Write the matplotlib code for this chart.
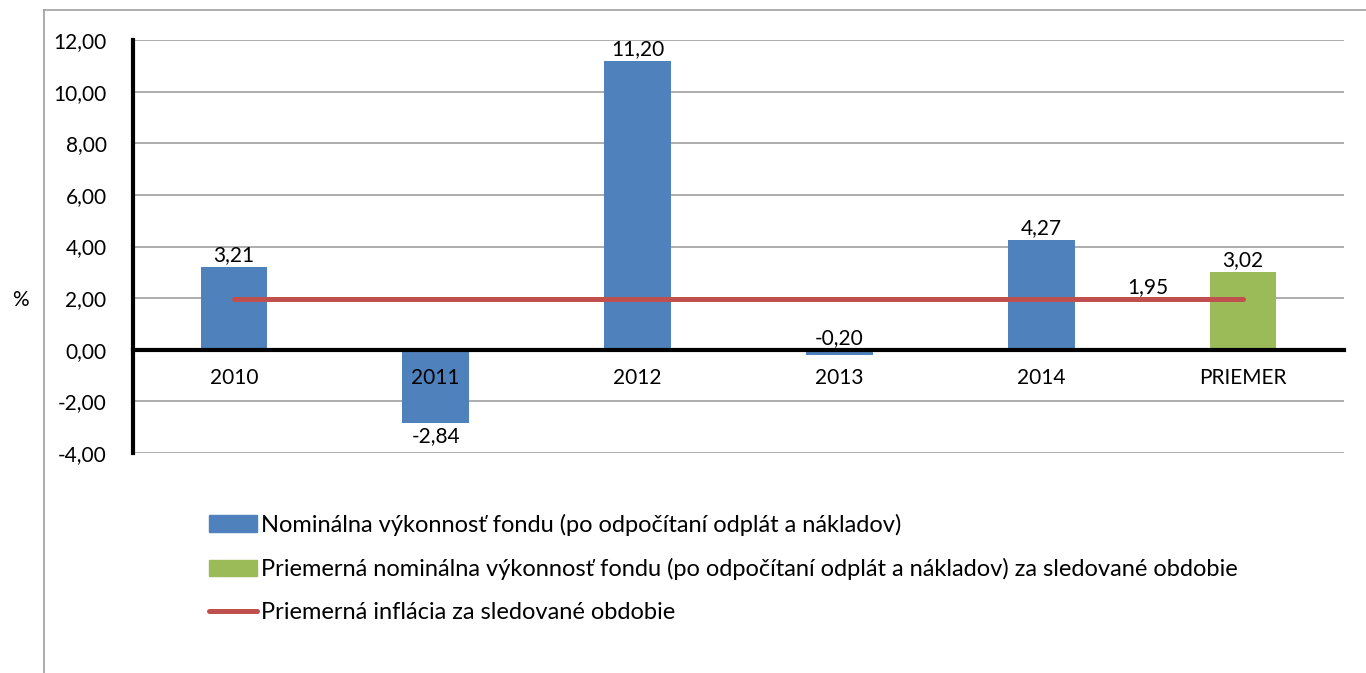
import matplotlib.pyplot as plt
from matplotlib.lines import Line2D
from matplotlib.patches import Patch

categories = ["2010", "2011", "2012", "2013", "2014", "PRIEMER"]
fund_values = [3.21, -2.84, 11.20, -0.20, 4.27]
average_value = 3.02
inflation = 1.95
y_ticks = [-4, -2, 0, 2, 4, 6, 8, 10, 12]

legend_labels = [
    "Nominálna výkonnosť fondu (po odpočítaní odplát a nákladov)",
    "Priemerná nominálna výkonnosť fondu (po odpočítaní odplát a nákladov) za sledované obdobie",
    "Priemerná inflácia za sledované obdobie",
]

blue = "#4F81BD"
green = "#9BBB59"
red = "#C0504D"
grid_gray = "#A0A0A0"

plt.rcParams["font.family"] = ["Lato", "DejaVu Sans"]


def fmt(v):
    return f"{v:.2f}".replace(".", ",")


fig = plt.figure(figsize=(13.66, 6.73), dpi=100)
W, H = 1366, 673

# outer frame (top and left only)
fig.add_artist(Line2D([44 / W, 1.0], [1 - 9.5 / H, 1 - 9.5 / H], color=grid_gray, lw=1.2,
                      transform=fig.transFigure))
fig.add_artist(Line2D([44 / W, 44 / W], [0, 1 - 9.5 / H], color=grid_gray, lw=1.2,
                      transform=fig.transFigure))

ax = fig.add_axes([133 / W, 220 / H, (1344 - 133) / W, 413 / H])

x = list(range(len(categories)))
ax.bar(x[:5], fund_values, width=0.33, color=blue, zorder=2)
ax.bar(x[5], average_value, width=0.33, color=green, zorder=2)
ax.plot([x[0], x[5]], [inflation, inflation], color=red, lw=3.6,
        solid_capstyle="round", zorder=3)

ax.set_xlim(-0.5, 5.5)
ax.set_ylim(-4, 12)
ax.set_yticks(y_ticks)
ax.set_yticklabels([fmt(v) for v in y_ticks], fontsize=15)
for v in y_ticks:
    if v != 0:
        ax.axhline(v, color=grid_gray, lw=1.2, zorder=1)

for s in ["top", "right"]:
    ax.spines[s].set_visible(False)
ax.spines["left"].set_linewidth(3)
ax.spines["left"].set_color("black")
ax.spines["bottom"].set_position(("data", 0))
ax.spines["bottom"].set_linewidth(3)
ax.spines["bottom"].set_zorder(4)
ax.tick_params(axis="both", length=0)
ax.tick_params(axis="y", pad=19)
ax.set_xticks([])

# category labels drawn above the bars
for i, c in enumerate(categories):
    ax.annotate(c, (i, 0), xytext=(0, -13), textcoords="offset points",
                ha="center", va="top", fontsize=15, zorder=6)

# value labels
for i, v in enumerate(fund_values):
    if v > -1:
        ax.annotate(fmt(v), (i, max(v, 0)), xytext=(0, 1), textcoords="offset points",
                    ha="center", va="bottom", fontsize=15)
    else:
        ax.annotate(fmt(v), (i, v), xytext=(0, -2), textcoords="offset points",
                    ha="center", va="top", fontsize=15)
ax.annotate(fmt(average_value), (5, average_value), xytext=(0, 1), textcoords="offset points",
            ha="center", va="bottom", fontsize=15)
ax.annotate(fmt(inflation), (4.53, inflation), xytext=(0, 2), textcoords="offset points",
            ha="center", va="bottom", fontsize=15)

fig.text(20 / W, 1 - 300 / H, "%", fontsize=15, ha="center", va="center")

handles = [
    Patch(color=blue),
    Patch(color=green),
    Line2D([0], [0], color=red, lw=3.6, solid_capstyle="round"),
]
fig.legend(handles, legend_labels, loc="upper left", bbox_to_anchor=(200 / W, 1 - 504 / H),
           frameon=False, fontsize=17, handlelength=2.0, handletextpad=0.2,
           labelspacing=0.95, borderaxespad=0)

fig.savefig("out.png", dpi=100)
